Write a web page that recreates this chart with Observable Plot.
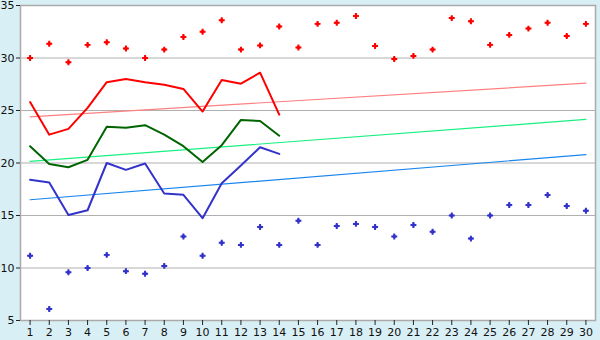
<!DOCTYPE html>
<html><head><meta charset="utf-8">
<script src="https://cdn.jsdelivr.net/npm/d3@7"></script>
<script src="https://cdn.jsdelivr.net/npm/@observablehq/plot@0.6"></script>
<style>
html,body{margin:0;padding:0;background:#d9eff6;}
#chart svg{display:block;}
</style>
</head><body><div id="chart"></div>
<script>
const days = [1,2,3,4,5,6,7,8,9,10,11,12,13,14,15,16,17,18,19,20,21,22,23,24,25,26,27,28,29,30];
const recordMax = [30.0,31.35,29.6,31.25,31.5,30.9,30.0,30.8,32.0,32.5,33.6,30.8,31.2,33.0,31.0,33.25,33.35,34.0,31.15,29.9,30.2,30.8,33.8,33.5,31.25,32.2,32.8,33.35,32.1,33.25];
const recordMin = [11.16,6.1,9.6,10.0,11.25,9.7,9.45,10.2,13.0,11.16,12.4,12.2,13.9,12.2,14.5,12.2,14.0,14.2,13.9,13.0,14.1,13.45,15.0,12.8,15.0,16.0,16.0,16.95,15.9,15.45];
const obsDays = [1,2,3,4,5,6,7,8,9,10,11,12,13,14];
const maxTemp = [25.8,22.7,23.25,25.25,27.7,28.0,27.7,27.45,27.05,24.9,27.9,27.55,28.6,24.6];
const meanTemp = [21.6,19.9,19.6,20.3,23.45,23.35,23.6,22.7,21.6,20.1,21.7,24.1,24.0,22.6];
const minTemp = [18.4,18.15,15.05,15.5,20.0,19.35,19.95,17.1,16.97,14.74,18.07,19.76,21.5,20.87];
const trendDays = [1,30];
const normalMax = [24.4,27.6];
const normalMean = [20.15,24.15];
const normalMin = [16.5,20.8];
const yTicks = [5,10,15,20,25,30,35];

const pts = (xs, ys) => xs.map((d,i)=>({day:d, v:ys[i]}));

const chart = Plot.plot({
  width: 600, height: 340,
  marginLeft: 20, marginRight: 5, marginTop: 5, marginBottom: 20,
  style: {background: "#d9eff6", fontFamily: "DejaVu Sans", fontSize: "11px", color: "#111"},
  x: {domain: [0.5, 30.5], ticks: days, tickFormat: d=>String(d), tickSize: 5, tickPadding: 3, label: null},
  y: {domain: [5, 35], ticks: yTicks, tickSize: 4, tickPadding: 2, label: null},
  marks: [
    Plot.frame({fill: "white", stroke: "none"}),
    Plot.ruleY(yTicks, {stroke: "#b0b0b0", strokeWidth: 1}),
    Plot.frame({stroke: "#aaaaaa", strokeWidth: 1.5}),
    Plot.line(pts(trendDays, normalMax), {x:"day", y:"v", stroke:"#ff8080", strokeWidth:1.2}),
    Plot.line(pts(trendDays, normalMean), {x:"day", y:"v", stroke:"#19f080", strokeWidth:1.2}),
    Plot.line(pts(trendDays, normalMin), {x:"day", y:"v", stroke:"#1a86f0", strokeWidth:1.2}),
    Plot.line(pts(obsDays, maxTemp), {x:"day", y:"v", stroke:"#ff0000", strokeWidth:2}),
    Plot.line(pts(obsDays, meanTemp), {x:"day", y:"v", stroke:"#006400", strokeWidth:2}),
    Plot.line(pts(obsDays, minTemp), {x:"day", y:"v", stroke:"#3333cc", strokeWidth:2}),
    Plot.dot(pts(days, recordMax), {x:"day", y:"v", symbol:"cross", r:2.5, fill:"#ff0000"}),
    Plot.dot(pts(days, recordMax), {x:"day", y:"v", symbol:"diamond2", r:2.2, fill:"#ff0000"}),
    Plot.dot(pts(days, recordMin), {x:"day", y:"v", symbol:"cross", r:2.5, fill:"#3333cc"}),
    Plot.dot(pts(days, recordMin), {x:"day", y:"v", symbol:"diamond2", r:2.2, fill:"#3333cc"}),
    Plot.axisX({ticks: days, tickFormat: d=>String(d), tickSize: 5, tickPadding: 3, stroke:"#222", label:null}),
    Plot.axisY({ticks: yTicks, tickSize: 4, tickPadding: 2, stroke:"#222", label:null})
  ]
});
document.getElementById("chart").appendChild(chart);
</script>
</body></html>
